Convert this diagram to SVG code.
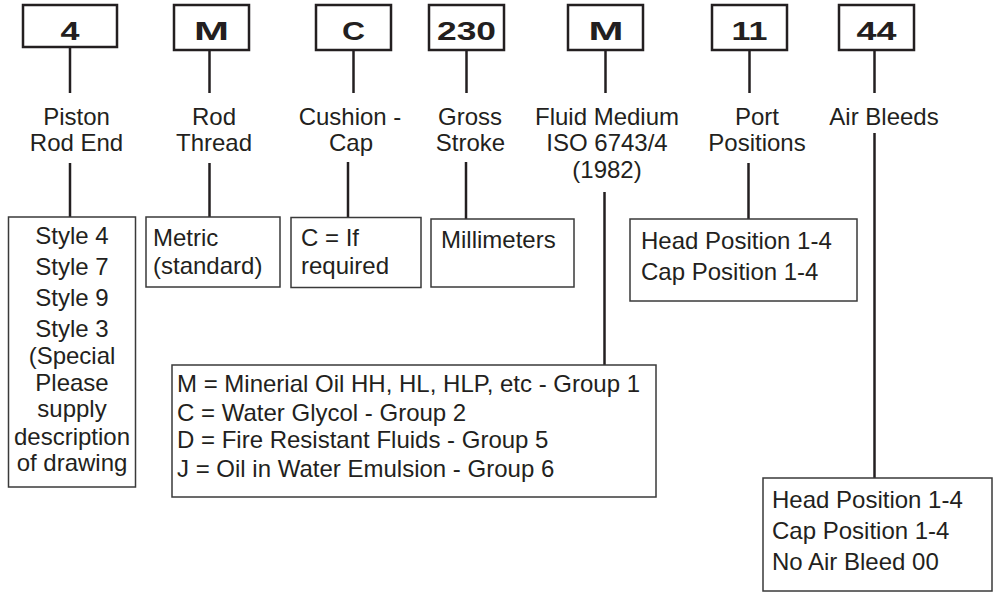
<svg xmlns="http://www.w3.org/2000/svg" width="993" height="594" viewBox="0 0 993 594">
<style>
.code{fill:#fff;stroke:#231f20;stroke-width:2.5}
.ct{font-family:"Liberation Sans",Arial,sans-serif;font-weight:bold;font-size:26.5px;fill:#231f20;text-anchor:middle}
.lbl{font-family:"Liberation Sans",Arial,sans-serif;font-size:24px;fill:#231f20;text-anchor:middle}
.opt{fill:#fff;stroke:#3a3a3a;stroke-width:1.5}
.ot{font-family:"Liberation Sans",Arial,sans-serif;font-size:24px;fill:#231f20}
.otc{text-anchor:middle}
.con line{stroke:#231f20;stroke-width:2.5}
</style>
<rect width="993" height="594" fill="#fff"/>
<g id="connectors" class="con">
<line x1="70" y1="47" x2="70" y2="93"/>
<line x1="209.5" y1="50" x2="209.5" y2="93"/>
<line x1="353.5" y1="50" x2="353.5" y2="93"/>
<line x1="466.5" y1="50" x2="466.5" y2="93"/>
<line x1="605.5" y1="50" x2="605.5" y2="93"/>
<line x1="749.5" y1="50" x2="749.5" y2="93"/>
<line x1="874.5" y1="50" x2="874.5" y2="93"/>
<line x1="70" y1="163" x2="70" y2="217"/>
<line x1="209.5" y1="163" x2="209.5" y2="217"/>
<line x1="348" y1="162" x2="348" y2="217.5"/>
<line x1="466" y1="162" x2="466" y2="219"/>
<line x1="604.5" y1="192" x2="604.5" y2="365"/>
<line x1="748.5" y1="163" x2="748.5" y2="219"/>
<line x1="874.5" y1="133" x2="874.5" y2="478"/>
</g>
<g id="code-4">
<rect class="code" x="23" y="5" width="94" height="42"/>
<text class="ct" x="70" y="39.5" textLength="19" lengthAdjust="spacingAndGlyphs">4</text>
</g>
<g id="code-M1">
<rect class="code" x="174" y="5" width="75" height="45"/>
<text class="ct" x="211.5" y="39.5" textLength="35" lengthAdjust="spacingAndGlyphs">M</text>
</g>
<g id="code-C">
<rect class="code" x="316" y="5" width="75" height="45"/>
<text class="ct" x="353.5" y="39.5" textLength="23" lengthAdjust="spacingAndGlyphs">C</text>
</g>
<g id="code-230">
<rect class="code" x="429" y="5" width="75" height="45"/>
<text class="ct" x="466.5" y="39.5" textLength="59" lengthAdjust="spacingAndGlyphs">230</text>
</g>
<g id="code-M2">
<rect class="code" x="568" y="5" width="75" height="45"/>
<text class="ct" x="606" y="39.5" textLength="35" lengthAdjust="spacingAndGlyphs">M</text>
</g>
<g id="code-11">
<rect class="code" x="712" y="5" width="75" height="45"/>
<text class="ct" x="749.5" y="39.5" textLength="36" lengthAdjust="spacingAndGlyphs">11</text>
</g>
<g id="code-44">
<rect class="code" x="839" y="5" width="75" height="45"/>
<text class="ct" x="876.5" y="39.5" textLength="40" lengthAdjust="spacingAndGlyphs">44</text>
</g>
<g id="label-piston">
<text class="lbl" x="76.5" y="125">Piston</text>
<text class="lbl" x="76.5" y="151">Rod End</text>
</g>
<g id="label-rod">
<text class="lbl" x="214" y="125">Rod</text>
<text class="lbl" x="214" y="151">Thread</text>
</g>
<g id="label-cushion">
<text class="lbl" x="350" y="125">Cushion -</text>
<text class="lbl" x="351" y="151">Cap</text>
</g>
<g id="label-stroke">
<text class="lbl" x="470" y="125">Gross</text>
<text class="lbl" x="470.5" y="151">Stroke</text>
</g>
<g id="label-fluid">
<text class="lbl" x="607" y="125">Fluid Medium</text>
<text class="lbl" x="607" y="151">ISO 6743/4</text>
<text class="lbl" x="607" y="178">(1982)</text>
</g>
<g id="label-port">
<text class="lbl" x="757" y="125">Port</text>
<text class="lbl" x="757" y="151">Positions</text>
</g>
<g id="label-air">
<text class="lbl" x="884" y="125">Air Bleeds</text>
</g>
<g id="opt-style">
<rect class="opt" x="8.5" y="217" width="127" height="270"/>
<text class="ot otc" x="72" y="244">Style 4</text>
<text class="ot otc" x="72" y="275">Style 7</text>
<text class="ot otc" x="72" y="306">Style 9</text>
<text class="ot otc" x="72" y="337">Style 3</text>
<text class="ot otc" x="72" y="364">(Special</text>
<text class="ot otc" x="72" y="391">Please</text>
<text class="ot otc" x="72" y="417">supply</text>
<text class="ot otc" x="72" y="445">description</text>
<text class="ot otc" x="72" y="471">of drawing</text>
</g>
<g id="opt-metric">
<rect class="opt" x="146" y="217" width="134" height="70"/>
<text class="ot" x="153" y="246">Metric</text>
<text class="ot" x="153" y="274">(standard)</text>
</g>
<g id="opt-cushion">
<rect class="opt" x="291" y="217.5" width="130" height="70"/>
<text class="ot" x="301" y="246">C = If</text>
<text class="ot" x="301" y="274">required</text>
</g>
<g id="opt-stroke">
<rect class="opt" x="431" y="219" width="143" height="68"/>
<text class="ot" x="441" y="248">Millimeters</text>
</g>
<g id="opt-port">
<rect class="opt" x="630" y="219" width="227" height="82"/>
<text class="ot" x="641" y="249">Head Position 1-4</text>
<text class="ot" x="641" y="280">Cap Position 1-4</text>
</g>
<g id="opt-fluid">
<rect class="opt" x="172" y="365" width="484" height="132"/>
<text class="ot" x="177" y="392">M = Minerial Oil HH, HL, HLP, etc - Group 1</text>
<text class="ot" x="177" y="420.5">C = Water Glycol - Group 2</text>
<text class="ot" x="177" y="448">D = Fire Resistant Fluids - Group 5</text>
<text class="ot" x="177" y="477">J = Oil in Water Emulsion - Group 6</text>
</g>
<g id="opt-air">
<rect class="opt" x="763" y="478" width="229" height="113"/>
<text class="ot" x="772" y="508">Head Position 1-4</text>
<text class="ot" x="772" y="538.5">Cap Position 1-4</text>
<text class="ot" x="772" y="570">No Air Bleed 00</text>
</g>
</svg>
